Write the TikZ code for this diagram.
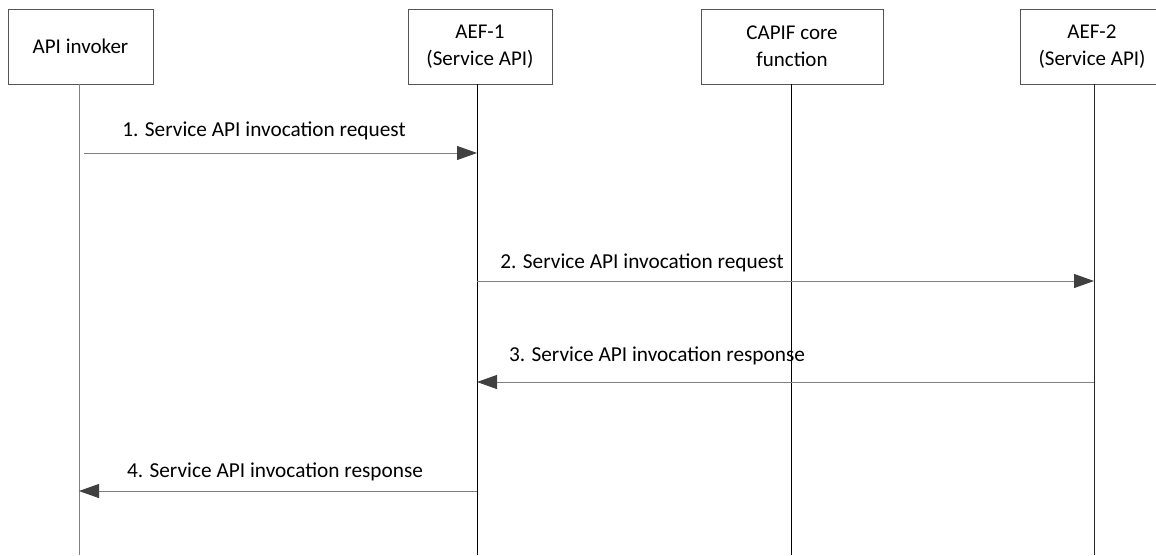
\documentclass[tikz,border=0pt]{standalone}
\usepackage{fontspec}
\setmainfont{Carlito}
\usetikzlibrary{arrows.meta}
\definecolor{linegray}{HTML}{808080}
\definecolor{boxgray}{HTML}{555555}
\definecolor{tipgray}{HTML}{404040}
\begin{document}
\begin{tikzpicture}[x=1pt,y=-1pt,
  entity/.style={draw=boxgray,line width=1pt,minimum height=75pt,align=center,inner sep=0pt,
    font=\fontsize{21}{27}\selectfont},
  lifeline/.style={line width=1pt},
  msg/.style={draw=linegray,line width=1pt,-{Triangle[length=20pt,width=14pt,fill=tipgray,color=tipgray]}},
  msglabel/.style={font=\fontsize{21.3}{24}\selectfont,inner sep=0pt}]
\useasboundingbox (0,0) rectangle (1156,555);
% entities
\node[entity,minimum width=145pt] (inv) at (80.5,46.5) {API invoker};
\node[entity,minimum width=144pt] (aef1) at (480,46.5) {AEF-1\\(Service API)};
\node[entity,minimum width=182pt] (capif) at (792,46.5) {CAPIF core\\function};
\node[entity,minimum width=144pt] (aef2) at (1092,46.5) {AEF-2\\(Service API)};
% lifeline ends
\coordinate (invT) at (79,84);
\coordinate (invB) at (79,555);
\coordinate (aef1T) at (477,84);
\coordinate (aef1B) at (477,555);
\coordinate (capifT) at (791,84);
\coordinate (capifB) at (791,555);
\coordinate (aef2T) at (1094,84);
\coordinate (aef2B) at (1094,555);
\draw[lifeline,linegray] (invT) -- (invB);
\draw[lifeline,black] (aef1T) -- (aef1B);
\draw[lifeline,black] (capifT) -- (capifB);
\draw[lifeline,black!85] (aef2T) -- (aef2B);
% message points
\coordinate (m1s) at (84,153);
\coordinate (m1e) at (477,153);
\coordinate (m2s) at (477,281);
\coordinate (m2e) at (1094,281);
\coordinate (m3s) at (1094,382);
\coordinate (m3e) at (477,382);
\coordinate (m4s) at (477,491);
\coordinate (m4e) at (79,491);
\draw[msg] (m1s) -- (m1e);
\draw[msg] (m2s) -- (m2e);
\draw[msg] (m3s) -- (m3e);
\draw[msg] (m4s) -- (m4e);
% labels
\node[msglabel] (l1) at (264,131) {1. Service API invocation request};
\node[msglabel] (l2) at (642,263) {2. Service API invocation request};
\node[msglabel] (l3) at (657,356) {3. Service API invocation response};
\node[msglabel] (l4) at (275,472) {4. Service API invocation response};
\end{tikzpicture}
\end{document}
